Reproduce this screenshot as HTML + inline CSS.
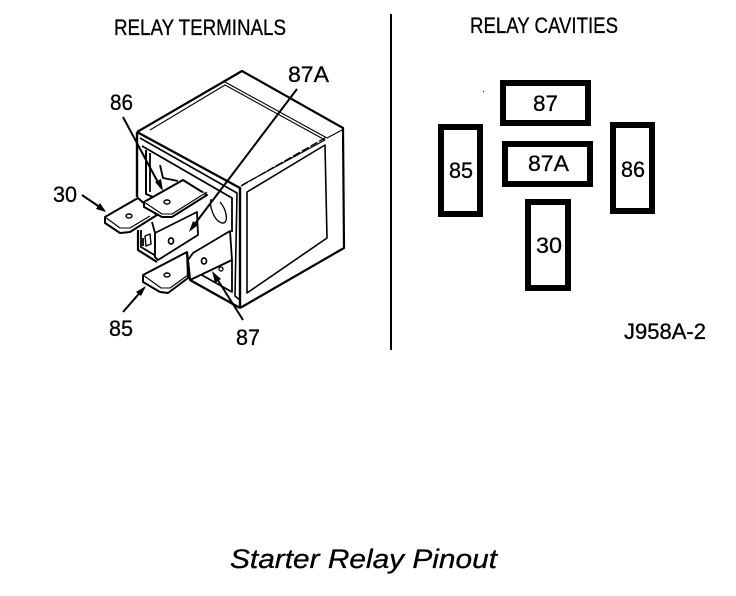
<!DOCTYPE html>
<html>
<head>
<meta charset="utf-8">
<style>
html,body{margin:0;padding:0;background:#fff;width:736px;height:596px;overflow:hidden}
svg{display:block}
text{font-family:"Liberation Sans",sans-serif;fill:#000;stroke:#000;stroke-width:.3}
</style>
</head>
<body>
<svg width="736" height="596" viewBox="0 0 736 596" xmlns="http://www.w3.org/2000/svg">
<rect width="736" height="596" fill="#fff"/>

<!-- headings -->
<text x="114" y="35" font-size="22" textLength="172" lengthAdjust="spacingAndGlyphs">RELAY TERMINALS</text>
<text x="470" y="33" font-size="22" textLength="148" lengthAdjust="spacingAndGlyphs">RELAY CAVITIES</text>
<rect x="390" y="14" width="2" height="336" fill="#000"/>

<!-- relay body -->
<g fill="none" stroke="#000" stroke-width="1.8" stroke-linejoin="round">
  <path d="M137,132 L242,71 L343,128 L344,248 L240,308" stroke-width="2.2"/>
  <path d="M137,132 L240,188 L240,308" stroke-width="2.4"/>
  <path d="M137,132 L137,197" stroke-width="2.4"/>
  <path d="M138,230 L138,250 L157,262" stroke-width="2.2"/>
  <path d="M190,280 L240,308" stroke-width="2.4"/>
  <path d="M150,130 L225,85 L325,140 L242,185" stroke-width="1.1"/>
  <path d="M225,82 L327,138" stroke-width="1.1"/>
  <path d="M247,192 L325,145 L327,238 L247,293 Z" stroke-width="1.6"/>
  <path d="M327,138 L342,130" stroke-width="1"/>
  <path d="M241,186 L325,138" stroke-width="1.4" stroke-dasharray="8 2"/>
  <path d="M140,138 L237,193 L235,296 L240,300" stroke-width="1.6"/>
  <path d="M142,146 L232,198 L232,232"/>
  <path d="M232,260 L232,292 L200,274"/>
  <path d="M146,150 L146,194 L153,197" stroke-width="2"/>
  <path d="M150,153 L150,192" stroke-width="1.8"/>
  <path d="M160,165 L163,178 L178,181"/>
  <path d="M211,199 C209,206 214,221 222,223 C229,224 227,210 220,202" stroke-width="1.3"/>
  <path d="M141,230 L141,247 L156,256"/>
  <path d="M145,236 L150,234 L151,244 L146,246 Z" stroke-width="1.4"/>
  <path d="M143,238 L143,246"/>
</g>

<!-- terminals -->
<g fill="#fff" stroke="#000" stroke-width="1.8" stroke-linejoin="round">
  <path d="M188,260 L193,253 L230,231 L232,260 L190,280 Z"/>
  <path d="M155,233 L197,212 L198,235 L158,260 L155,257 Z"/>
  <path d="M152,222 L155,233 L155,257 L158,260"/>
  <path d="M105,217 L138,198 L157,215 L130,232 L120,233 L105,223 Z" stroke-width="2"/>
  <path d="M105,217 L120,228 L130,228 L150,216" stroke-width="1.1"/>
  <path d="M144,202 L183,180 L207,195 L172,217 L162,217 L144,207 Z" stroke-width="2"/>
  <path d="M144,202 L162,214 L172,214 L207,192" stroke-width="1.1"/>
  <path d="M143,275 L187,252 L188,278 L168,293 L160,292 L143,282 Z" stroke-width="2"/>
  <path d="M143,275 L161,288 L170,288 L188,275" stroke-width="1.1"/>
  <path d="M187,252 L190,280" stroke-width="2.2"/>
  <ellipse cx="129" cy="216" rx="3" ry="2" stroke-width="1.4"/>
  <ellipse cx="167" cy="202" rx="3" ry="2" stroke-width="1.4"/>
  <ellipse cx="171" cy="241" rx="2.5" ry="3" stroke-width="1.7"/>
  <ellipse cx="167" cy="275" rx="3" ry="2" stroke-width="1.4"/>
  <ellipse cx="204" cy="261" rx="2.5" ry="3" stroke-width="1.7"/>
  <ellipse cx="221" cy="269" rx="2" ry="2" stroke-width="1.3"/>
</g>

<!-- leaders -->
<g stroke="#000" stroke-width="2" fill="none">
  <line x1="123" y1="117" x2="161" y2="188"/>
  <line x1="297" y1="89" x2="191" y2="229"/>
  <line x1="82" y1="195" x2="104" y2="210"/>
  <line x1="123" y1="312" x2="144" y2="288"/>
  <line x1="243" y1="320" x2="214" y2="274"/>
</g>
<g fill="#000">
  <path d="M163,191 L155,182 L161,179 Z"/>
  <path d="M189,232 L193,221 L198,225 Z"/>
  <path d="M106,212 L96,209 L100,203 Z"/>
  <path d="M146,286 L141,296 L136,292 Z"/>
  <path d="M212,271 L221,279 L215,283 Z"/>
</g>

<!-- terminal labels -->
<g font-size="22.5">
  <text x="110" y="110" textLength="23" lengthAdjust="spacingAndGlyphs">86</text>
  <text x="288" y="82" textLength="41" lengthAdjust="spacingAndGlyphs">87A</text>
  <text x="53" y="202" textLength="24" lengthAdjust="spacingAndGlyphs">30</text>
  <text x="109" y="336" textLength="24" lengthAdjust="spacingAndGlyphs">85</text>
  <text x="236" y="345" textLength="24" lengthAdjust="spacingAndGlyphs">87</text>
</g>

<!-- cavities -->
<g fill="#fff" stroke="#000" stroke-width="6">
  <rect x="503" y="83" width="85" height="40"/>
  <rect x="441" y="127" width="39" height="87"/>
  <rect x="505" y="144" width="85" height="40"/>
  <rect x="613" y="125" width="39" height="86"/>
  <rect x="528" y="202" width="40" height="86"/>
</g>
<rect x="483" y="91" width="1" height="1" fill="#000"/>
<g font-size="22.5">
  <text x="533" y="111" textLength="25" lengthAdjust="spacingAndGlyphs">87</text>
  <text x="528" y="171" textLength="41" lengthAdjust="spacingAndGlyphs">87A</text>
  <text x="449" y="178" textLength="24" lengthAdjust="spacingAndGlyphs">85</text>
  <text x="621" y="177" textLength="24" lengthAdjust="spacingAndGlyphs">86</text>
  <text x="536" y="253" textLength="26" lengthAdjust="spacingAndGlyphs">30</text>
</g>

<text x="624" y="339" font-size="22.5" textLength="82" lengthAdjust="spacingAndGlyphs">J958A-2</text>
<text x="230" y="568" font-size="26.5" font-style="italic" textLength="267" lengthAdjust="spacingAndGlyphs">Starter Relay Pinout</text>
</svg>
</body>
</html>
